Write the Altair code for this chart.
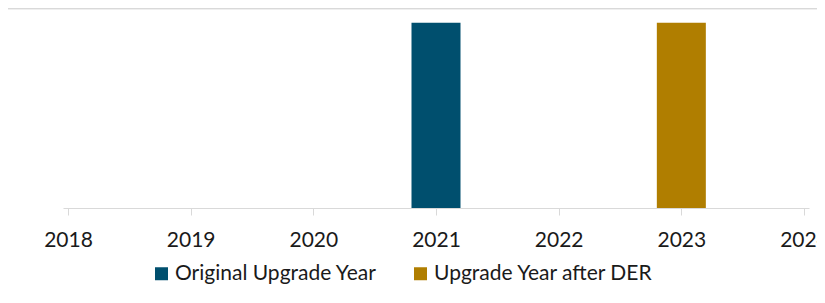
import altair as alt
import pandas as pd

series = ["Original Upgrade Year", "Upgrade Year after DER"]
years = [2021, 2023]
values = [1, 1]
axis_years = [2018, 2019, 2020, 2021, 2022, 2023, 2024]
colors = ["#004F6E", "#B07E00"]

df = pd.DataFrame({"series": series, "year": years, "value": values})

W, H = 746, 200
FONT = "Lato"

bars = alt.Chart(df).mark_bar(width=49).encode(
    x=alt.X("year:Q",
            scale=alt.Scale(domain=[2018, 2024], nice=False, zero=False),
            axis=alt.Axis(values=axis_years, format="d", title=None,
                          grid=False, domainColor="#d9d9d9", tickColor="#d9d9d9",
                          tickSize=7, labelFontSize=21, labelFont=FONT,
                          labelColor="#1a1a1a", labelPadding=14,
                          labelFlush=False, labelOverlap=False)),
    y=alt.Y("value:Q", scale=alt.Scale(domain=[0, 1.08], nice=False),
            axis=None),
    color=alt.Color("series:N",
                    scale=alt.Scale(domain=series, range=colors),
                    legend=alt.Legend(title=None, orient="none", direction="horizontal",
                                      legendX=88, legendY=255,
                                      symbolType="square", symbolSize=169,
                                      symbolStrokeWidth=0,
                                      labelFontSize=21, labelFont=FONT,
                                      labelColor="#1a1a1a", labelLimit=400,
                                      columnPadding=33, labelOffset=3)),
)

top = alt.Chart(df).mark_rule(color="#d9d9d9", strokeWidth=1.5).encode(
    x=alt.value(-60), x2=alt.value(W + 30), y=alt.value(0.5)
)

chart = alt.layer(top, bars).properties(
    width=W, height=H,
    background="white",
    autosize=alt.AutoSizeParams(type="none"),
    padding={"left": 55, "top": 0, "right": 8, "bottom": 78},
).configure_view(stroke=None)

chart.save("out.html", embed_options={"renderer": "svg", "actions": False})
